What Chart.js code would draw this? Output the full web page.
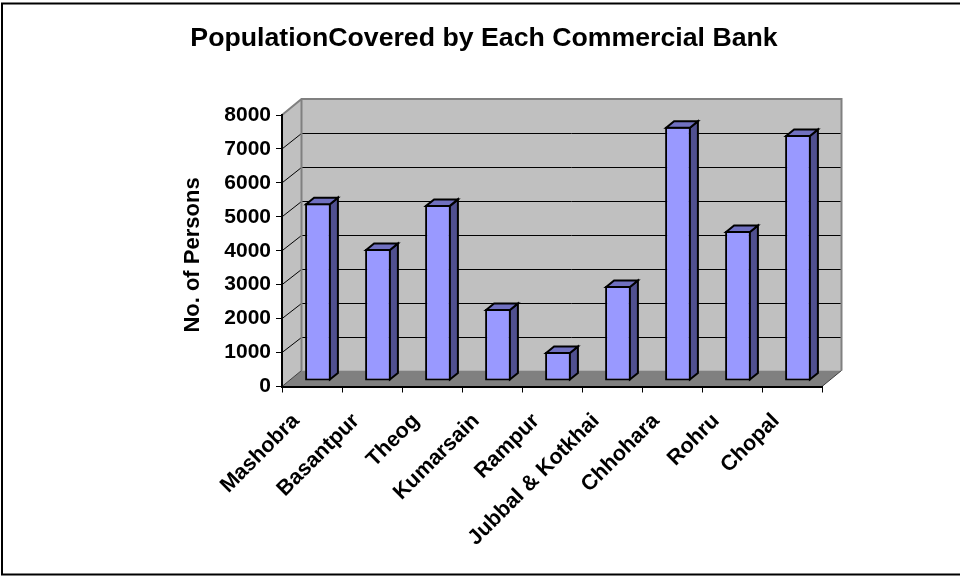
<!DOCTYPE html>
<html>
<head>
<meta charset="utf-8">
<style>
body { margin: 0; background: #fff; }
canvas { display: block; }
</style>
<script src="https://cdn.jsdelivr.net/npm/chart.js@4"></script>
</head>
<body>
<canvas id="myChart" width="960" height="577"></canvas>
<script>
var categories = ["Mashobra", "Basantpur", "Theog", "Kumarsain", "Rampur", "Jubbal & Kotkhai", "Chhohara", "Rohru", "Chopal"];
var persons = [5240, 3890, 5190, 2120, 855, 2800, 7490, 4420, 7250];

var chartTitle = "PopulationCovered by Each Commercial Bank";
var yTitle = "No. of Persons";

// depth of the fake 3d box, and of the bars standing inside it
var wallDx = 19.5, wallDy = -16;
var barShiftX = 6, barShiftY = -5.5;
var barDx = 8, barDy = -6.5;

function poly(ctx, pts, fill, stroke, lw) {
    ctx.beginPath();
    ctx.moveTo(pts[0][0], pts[0][1]);
    for (var i = 1; i < pts.length; i++) ctx.lineTo(pts[i][0], pts[i][1]);
    ctx.closePath();
    if (fill) { ctx.fillStyle = fill; ctx.fill(); }
    if (stroke) { ctx.strokeStyle = stroke; ctx.lineWidth = lw; ctx.lineJoin = 'miter'; ctx.stroke(); }
}

function line(ctx, x1, y1, x2, y2, color, lw) {
    ctx.beginPath();
    ctx.moveTo(x1, y1);
    ctx.lineTo(x2, y2);
    ctx.strokeStyle = color;
    ctx.lineWidth = lw;
    ctx.stroke();
}

var box3d = {
    id: 'box3d',
    beforeDraw: function (chart) {
        var ctx = chart.ctx, a = chart.chartArea, y = chart.scales.y;
        var L = a.left, R = a.right, T = a.top, B = a.bottom;
        ctx.save();
        // outer frame of the picture, the right side runs off the edge
        ctx.fillStyle = '#fff';
        ctx.fillRect(0, 0, chart.width, chart.height);
        ctx.strokeStyle = '#000';
        ctx.lineWidth = 2;
        ctx.strokeRect(2, 3.5, 962, 571);

        poly(ctx, [[L + wallDx, T + wallDy], [R + wallDx, T + wallDy], [R + wallDx, B + wallDy], [L + wallDx, B + wallDy]], '#c0c0c0');
        poly(ctx, [[L, T], [L + wallDx, T + wallDy], [L + wallDx, B + wallDy], [L, B]], '#c0c0c0');
        poly(ctx, [[L, B], [L + wallDx, B + wallDy], [R + wallDx, B + wallDy], [R, B]], '#808080');

        y.ticks.forEach(function (t) {
            if (t.value === 0 || t.value === y.max) return;
            var py = y.getPixelForValue(t.value);
            var back = Math.round(py + wallDy) + 0.5; // keep the back wall lines crisp
            line(ctx, L, py, L + wallDx, back, '#000', 1);
            line(ctx, L + wallDx, back, R + wallDx, back, '#000', 1);
        });

        // grey edges of the walls
        ctx.beginPath();
        ctx.moveTo(L, T);
        ctx.lineTo(L + wallDx, T + wallDy);
        ctx.lineTo(R + wallDx, T + wallDy);
        ctx.lineTo(R + wallDx, B + wallDy);
        ctx.moveTo(L + wallDx, T + wallDy);
        ctx.lineTo(L + wallDx, B + wallDy);
        ctx.strokeStyle = '#808080';
        ctx.lineWidth = 2;
        ctx.stroke();
        line(ctx, L, B, L + wallDx, B + wallDy, '#404040', 1);
        line(ctx, R, B, R + wallDx, B + wallDy, '#404040', 1);

        // axis title sits a bit lower than the scale would centre it
        ctx.translate(193, 255);
        ctx.rotate(-Math.PI / 2);
        ctx.font = 'bold 22px "Liberation Sans", Arial, sans-serif';
        ctx.fillStyle = '#000';
        ctx.textAlign = 'center';
        ctx.textBaseline = 'middle';
        ctx.fillText(yTitle, 0, 0);
        ctx.restore();
    },
    beforeDatasetDraw: function (chart) {
        // the front faces stand a little behind the front edge of the floor
        chart.ctx.save();
        chart.ctx.translate(barShiftX, barShiftY);
    },
    afterDatasetDraw: function (chart, args) {
        var ctx = chart.ctx;
        args.meta.data.forEach(function (bar) {
            var r = bar.x + bar.width / 2 - 1, l = bar.x - bar.width / 2 + 1;
            var t = bar.y + 1, b = bar.base - 1;
            poly(ctx, [[r, t], [r + barDx, t + barDy], [r + barDx, b + barDy], [r, b]], '#505090', '#000', 2);
            poly(ctx, [[l, t], [l + barDx, t + barDy], [r + barDx, t + barDy], [r, t]], '#7070c0', '#000', 2);
        });
        ctx.restore();
    }
};

var boldFont = { family: '"Liberation Sans", Arial, sans-serif', weight: 'bold', size: 21 };

var myChart = new Chart(document.getElementById('myChart'), {
    type: 'bar',
    plugins: [box3d],
    data: {
        labels: categories,
        datasets: [{
            data: persons,
            backgroundColor: '#9999ff',
            borderColor: '#000',
            borderWidth: 2,
            borderSkipped: false,
            barPercentage: 1,
            categoryPercentage: 0.43,
            clip: false
        }]
    },
    options: {
        responsive: false,
        animation: false,
        layout: { padding: { left: 146, right: 138, top: 0, bottom: 0 } },
        plugins: {
            legend: { display: false },
            tooltip: { enabled: false },
            title: {
                display: true,
                text: chartTitle,
                color: '#000',
                align: 'center',
                font: { family: boldFont.family, weight: 'bold', size: 26.7, lineHeight: 1.2 },
                padding: { top: 23, bottom: 60 }
            }
        },
        scales: {
            x: {
                grid: { drawOnChartArea: false, drawTicks: true, tickLength: 6, tickColor: '#000', tickWidth: 1 },
                border: { color: '#000', width: 2 },
                ticks: { color: '#000', font: { family: boldFont.family, weight: 'bold', size: 21.5 }, autoSkip: false, minRotation: 45, maxRotation: 45, padding: 16, labelOffset: -16 },
                afterFit: function (scale) { scale.height = 190.5; }
            },
            y: {
                min: 0,
                max: 8000,
                grid: { drawOnChartArea: false, drawTicks: true, tickLength: 6, tickColor: '#000', tickWidth: 1 },
                border: { color: '#000', width: 2 },
                ticks: {
                    color: '#000', font: boldFont, stepSize: 1000, padding: 5,
                    callback: function (v) { return String(v); }
                },
                afterFit: function (scale) { scale.width = 136; }
            }
        }
    }
});
</script>
</body>
</html>
